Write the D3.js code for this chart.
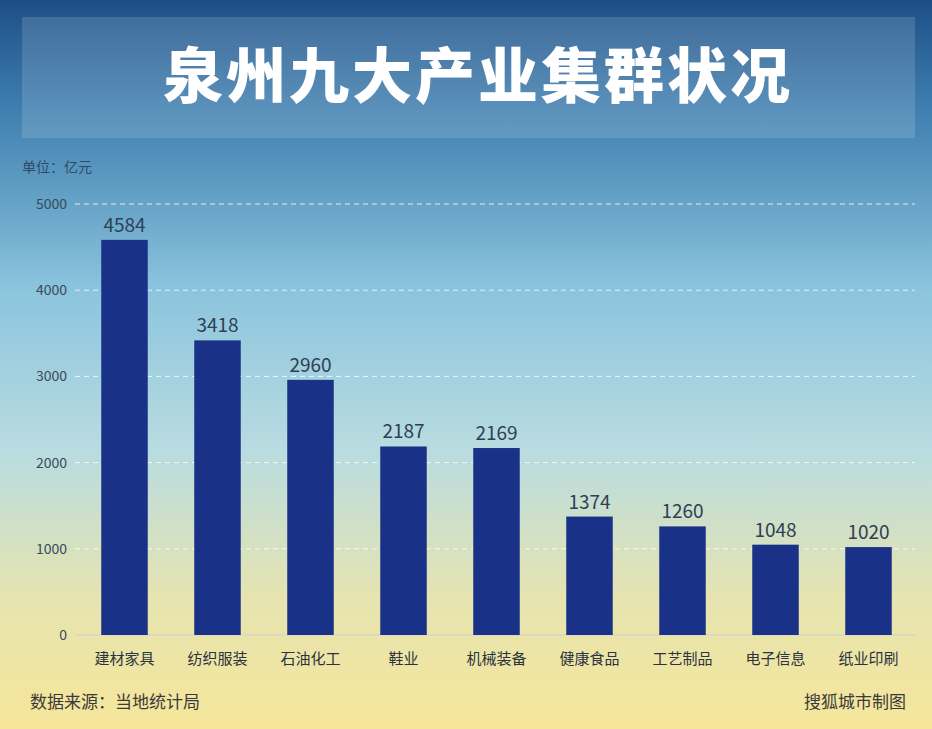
<!DOCTYPE html>
<html><head><meta charset="utf-8">
<script src="https://cdn.jsdelivr.net/npm/d3@7"></script>
<style>body{margin:0}svg{display:block}text{font-family:"Noto Sans CJK SC","Noto Sans",sans-serif}</style>
</head><body>
<script>
const categories=["建材家具","纺织服装","石油化工","鞋业","机械装备","健康食品","工艺制品","电子信息","纸业印刷"];
const values=[4584,3418,2960,2187,2169,1374,1260,1048,1020];
const yTicks=[0,1000,2000,3000,4000,5000];
const W=932,H=729;
const svg=d3.select("body").append("svg").attr("width",W).attr("height",H);
const defs=svg.append("defs");
const g=defs.append("linearGradient").attr("id","bg").attr("x1",0).attr("y1",0).attr("x2",0).attr("y2",1);
[[0,"#1d4f86"],[0.15,"#3f7fb0"],[0.4,"#8cc5de"],[0.62,"#b9dce0"],[0.82,"#e6e4b0"],[1,"#f6e69a"]].forEach(s=>g.append("stop").attr("offset",s[0]).attr("stop-color",s[1]));
svg.append("rect").attr("width",W).attr("height",H).attr("fill","url(#bg)");
svg.append("rect").attr("x",22).attr("y",17).attr("width",893).attr("height",121).attr("fill","#ffffff").attr("opacity",0.14);
svg.append("text").attr("x",478).attr("y",98).attr("text-anchor","middle").attr("fill","#fff").attr("font-size",60).attr("font-weight",900).attr("letter-spacing",3).text("泉州九大产业集群状况");
svg.append("text").attr("x",22).attr("y",172).attr("fill","#2d4a66").attr("font-size",14).text("单位：亿元");
const x=d3.scaleBand().domain(categories).range([78,915]).paddingInner(0.5).paddingOuter(0.25);
const y=d3.scaleLinear().domain([0,5000]).range([635,204]);
yTicks.forEach(t=>{
  if(t>0) svg.append("line").attr("x1",75).attr("x2",915).attr("y1",y(t)).attr("y2",y(t)).attr("stroke","#fff").attr("stroke-opacity",0.8).attr("stroke-dasharray","5,4");
  svg.append("text").attr("x",67).attr("y",y(t)+5).attr("text-anchor","end").attr("fill","#3a4a5a").attr("font-size",14).text(t);
});
svg.append("line").attr("x1",75).attr("x2",915).attr("y1",635).attr("y2",635).attr("stroke","#c9d3d0");
svg.selectAll(".bar").data(values).enter().append("rect").attr("x",(d,i)=>x(categories[i])).attr("y",d=>y(d)).attr("width",x.bandwidth()).attr("height",d=>635-y(d)).attr("fill","#1a3188");
svg.selectAll(".val").data(values).enter().append("text").attr("x",(d,i)=>x(categories[i])+x.bandwidth()/2).attr("y",d=>y(d)-8).attr("text-anchor","middle").attr("fill","#2f3f55").attr("font-size",19).text(d=>d);
svg.selectAll(".cat").data(categories).enter().append("text").attr("x",d=>x(d)+x.bandwidth()/2).attr("y",664).attr("text-anchor","middle").attr("fill","#2a3340").attr("font-size",15).text(d=>d);
svg.append("text").attr("x",30).attr("y",708).attr("fill","#3a3a3a").attr("font-size",17).text("数据来源：当地统计局");
svg.append("text").attr("x",906).attr("y",708).attr("text-anchor","end").attr("fill","#3a3a3a").attr("font-size",17).text("搜狐城市制图");
</script>
</body></html>
